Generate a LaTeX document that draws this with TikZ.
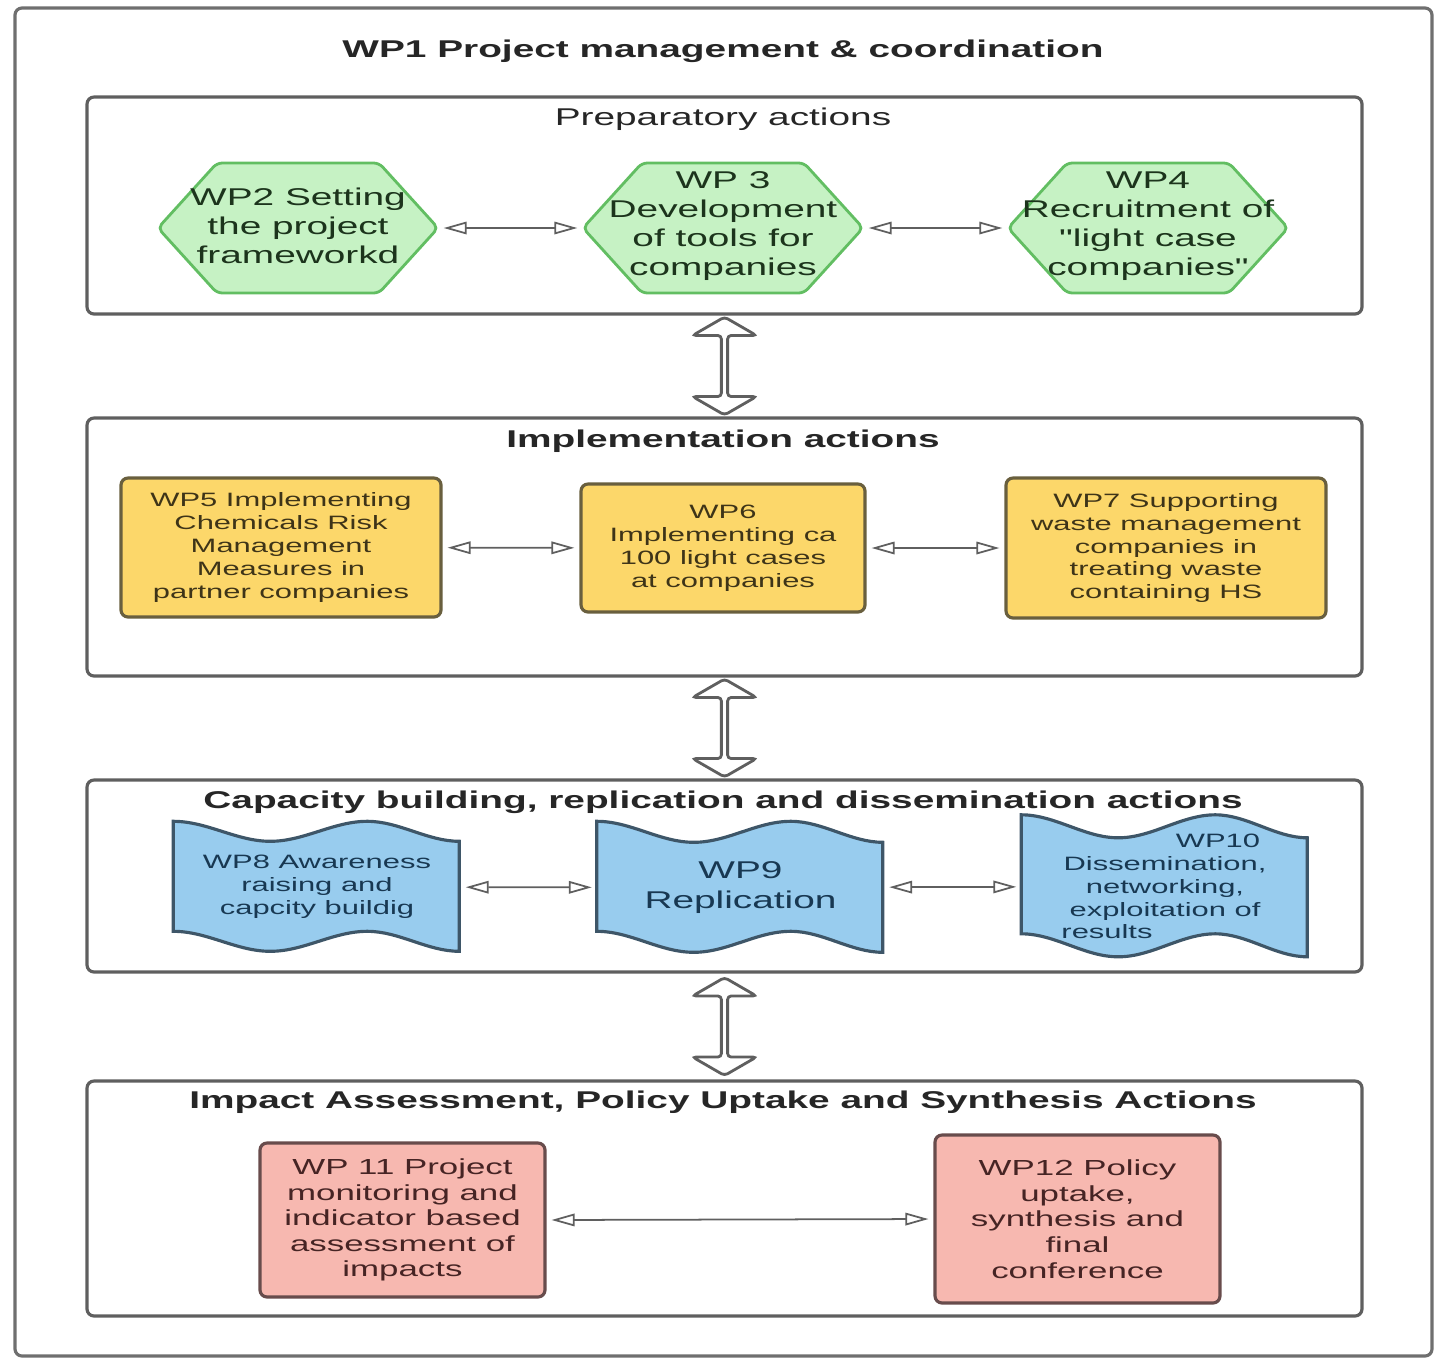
\documentclass[tikz,border=0pt]{standalone}
\usepackage{fontspec}
\setmainfont[FakeStretch=1.6]{Liberation Sans}
\newfontfamily\straightquote[FakeStretch=1.6, Ligatures=TeXOff]{Liberation Sans}
\usetikzlibrary{arrows.meta,shapes.arrows,backgrounds,calc}

\definecolor{framegray}{RGB}{95,95,95}
\definecolor{hexfill}{RGB}{198,242,196}
\definecolor{hexdraw}{RGB}{98,190,98}
\definecolor{hextext}{RGB}{28,52,28}
\definecolor{yelfill}{RGB}{252,215,106}
\definecolor{yeldraw}{RGB}{105,95,62}
\definecolor{yeltext}{RGB}{62,52,24}
\definecolor{bluefill}{RGB}{152,204,238}
\definecolor{bluedraw}{RGB}{62,86,104}
\definecolor{bluetext}{RGB}{24,56,82}
\definecolor{pinkfill}{RGB}{247,184,176}
\definecolor{pinkdraw}{RGB}{104,76,76}
\definecolor{pinktext}{RGB}{70,36,36}

\tikzset{
  panel/.style={draw=framegray, line width=0.9pt, rounded corners=2pt, minimum width=127.5mm},
  paneltitle/.style={font=\fontsize{6.9}{8.2}\selectfont\bfseries, text=black!85, inner sep=0pt},
  hexa/.style={minimum width=28mm, minimum height=13mm, align=center, text=hextext, inner sep=0pt,
    font=\fontsize{6.9}{8.2}\selectfont},
  hexline/.style={draw=hexdraw, fill=hexfill, line width=0.8pt, rounded corners=1.5pt},
  yelbox/.style={draw=yeldraw, fill=yelfill, line width=0.9pt, rounded corners=2pt, align=center,
    text=yeltext, inner sep=0pt, font=\fontsize{5.5}{6.5}\selectfont},
  wave/.style={align=center, text=bluetext, inner sep=0pt, minimum width=28.6mm,
    font=\fontsize{5.5}{6.5}\selectfont},
  waveline/.style={draw=bluedraw, fill=bluefill, line width=0.9pt},
  pinkbox/.style={draw=pinkdraw, fill=pinkfill, line width=0.9pt, rounded corners=2pt, align=center,
    text=pinktext, inner sep=0pt, minimum width=28.5mm, font=\fontsize{6.2}{7.3}\selectfont},
  link/.style={draw=framegray, line width=0.5pt,
    {Triangle[open,length=2.3mm,width=1.25mm]}-{Triangle[open,length=2.3mm,width=1.25mm]},
    shorten <=0.5mm, shorten >=0.5mm},
  bigarrow/.style={double arrow, draw=framegray, fill=white, line width=0.8pt, rotate=90,
    minimum height=9.8mm, minimum width=6.4mm, double arrow head extend=1.3mm,
    double arrow tip angle=120, inner sep=0pt, rounded corners=1pt}
}

\begin{document}
\begin{tikzpicture}[x=0.1mm, y=-0.1mm]
    \useasboundingbox (0,0) rectangle (1445,1358);

    % outer frame and WP1
    \draw[draw=framegray!90, line width=0.9pt, rounded corners=2pt] (15,8) rectangle (1432,1356);
    \node[paneltitle] (wp1) at (723,51) {WP1 Project management \& coordination};

    % the four panels
    \node[panel, minimum height=21.7mm] (prep) at (724.5,205.5) {};
    \node[panel, minimum height=25.8mm] (impl) at (724.5,547) {};
    \node[panel, minimum height=19.2mm] (capa) at (724.5,876) {};
    \node[panel, minimum height=23.5mm] (impa) at (724.5,1198.5) {};

    \node[paneltitle, font=\fontsize{6.9}{8.2}\selectfont] (preptitle) at (723,119) {Preparatory actions};
    \node[paneltitle] (impltitle) at (723,441) {Implementation actions};
    \node[paneltitle] (capatitle) at (723,802) {Capacity building, replication and dissemination actions};
    \node[paneltitle] (impatitle) at (723,1102) {Impact Assessment, Policy Uptake and Synthesis Actions};

    % preparatory actions
    \node[hexa] (wp2) at (298,226) {WP2 Setting\\the project\\frameworkd};
    \node[hexa] (wp3) at (723,226) {WP 3\\Development\\of tools for\\companies};
    \node[hexa] (wp4) at (1148,226) {WP4\\Recruitment of\\{\straightquote"}light case\\companies{\straightquote"}};
    \begin{scope}[on background layer]
        \foreach \n in {wp2,wp3,wp4} {
            \draw[hexline, shift={(\n.center)}] (-140,2) -- (-81,-63) -- (81,-63) -- (140,2)
                -- (81,67) -- (-81,67) -- cycle;
        }
    \end{scope}
    \draw[link] ([yshift=-0.2mm]wp2.east) -- ([yshift=-0.2mm]wp3.west);
    \draw[link] ([yshift=-0.2mm]wp3.east) -- ([yshift=-0.2mm]wp4.west);

    % implementation actions
    \node[yelbox, minimum width=32mm, minimum height=13.9mm] (wp5) at (281,547.5)
        {WP5 Implementing\\Chemicals Risk\\Management\\Measures in\\partner companies};
    \node[yelbox, minimum width=28.4mm, minimum height=12.8mm] (wp6) at (723,548)
        {WP6\\Implementing ca\\100 light cases\\at companies};
    \node[yelbox, minimum width=32mm, minimum height=14mm] (wp7) at (1166,548)
        {WP7 Supporting\\waste management\\companies in\\treating waste\\containing HS};
    \draw[link] (wp5) -- (wp6);
    \draw[link] (wp6) -- (wp7);

    % capacity building
    \node[wave, minimum height=13mm] (wp8) at (317,887) {WP8 Awareness\\raising and\\capcity buildig};
    \node[wave, minimum height=13.1mm, font=\fontsize{6.9}{8.5}\selectfont] (wp9) at (740.5,887.5)
        {WP9\\Replication};
    \node[wave, minimum height=14.2mm] (wp10) at (1165,886.5)
        {\hspace*{10.6mm}WP10\\Dissemination,\\networking,\\exploitation of\\results\hspace*{11.6mm}};
    \begin{scope}[on background layer]
        \foreach \n/\a/\h/\H in {wp8/20/110/130, wp9/21/110/131, wp10/23/119/142} {
            \draw[waveline, shift={(\n.north west)}] (0,0)
                .. controls (34,0) and (63,\a) .. (97,\a)
                .. controls (131,\a) and (160,0) .. (194,0)
                .. controls (226,0) and (254,\a) .. (286,\a)
                -- (286,\H)
                .. controls (254,\H) and (226,\h) .. (194,\h)
                .. controls (160,\h) and (131,\H) .. (97,\H)
                .. controls (63,\H) and (34,\h) .. (0,\h) -- cycle;
        }
    \end{scope}
    \draw[link] (wp8) -- (wp9);
    \draw[link] (wp9) -- (wp10);

    % impact assessment
    \node[pinkbox, minimum height=15.4mm] (wp11) at (402.5,1220)
        {WP 11 Project\\monitoring and\\indicator based\\assessment of\\impacts};
    \node[pinkbox, minimum height=16.8mm] (wp12) at (1077.5,1219)
        {WP12 Policy\\uptake,\\synthesis and\\final\\conference};
    \draw[link] (wp11.east) -- (wp12.west);

    % arrows between the panels
    \node[bigarrow] (prepimpl) at ($(prep.south)!0.5!(impl.north)$) {};
    \node[bigarrow] (implcapa) at ($(impl.south)!0.5!(capa.north)$) {};
    \node[bigarrow] (capaimpa) at ($(capa.south)!0.5!(impa.north)$) {};

\end{tikzpicture}
\end{document}
